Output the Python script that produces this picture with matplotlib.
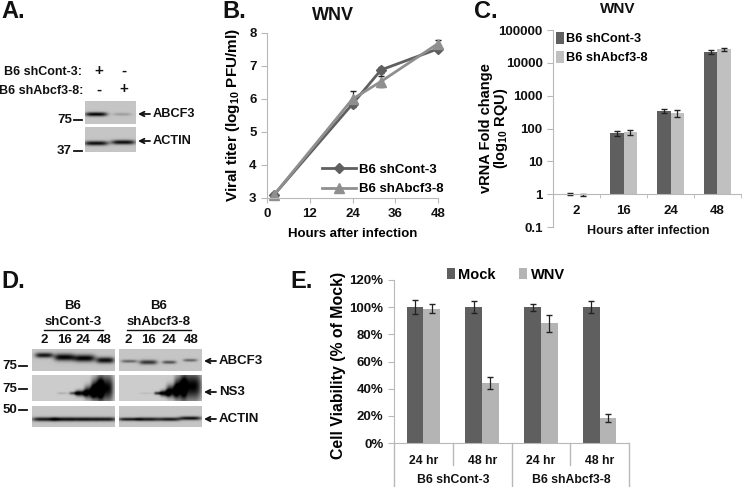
import matplotlib
matplotlib.use('Agg')
import matplotlib.pyplot as plt
import numpy as np

plt.rcParams['font.family'] = ['Liberation Sans', 'DejaVu Sans']
plt.rcParams['font.weight'] = 'bold'
plt.rcParams['axes.labelweight'] = 'bold'
plt.rcParams['mathtext.fontset'] = 'custom'
plt.rcParams['mathtext.rm'] = 'Liberation Sans:bold'
plt.rcParams['mathtext.default'] = 'rm'

W, H = 742, 487

# panel B
b_hours = [2, 24, 32, 48]
b_cont = [3.1, 5.85, 6.88, 7.52]
b_cont_err = [0.05, 0.06, 0.08, 0.06]
b_abcf = [3.1, 6.0, 6.53, 7.68]
b_abcf_err = [0.06, 0.25, 0.18, 0.12]
b_xticks = [0, 12, 24, 36, 48]
b_yticks = [3, 4, 5, 6, 7, 8]

# panel C
c_labels = ['2', '16', '24', '48']
c_cont = [1.0, 72, 340, 22000]
c_cont_err = [0.06, 14, 50, 3000]
c_abcf = [0.95, 78, 295, 25500]
c_abcf_err = [0.04, 13, 70, 3000]
c_yticks = [0.1, 1, 10, 100, 1000, 10000, 100000]
c_ylabels = ['0.1', '1', '10', '100', '1000', '10000', '100000']

# panel E
e_labels = ['24 hr', '48 hr', '24 hr', '48 hr']
e_groups = ['B6 shCont-3', 'B6 shAbcf3-8']
e_mock = [100, 100, 100, 100]
e_mock_err = [5, 4.5, 2.5, 4.5]
e_wnv = [99, 44, 88, 18.5]
e_wnv_err = [3, 4.5, 6, 3.2]
e_yticks = [0, 20, 40, 60, 80, 100, 120]

# blot bands: centre x, centre y, half width, half height, darkness
a_abcf3 = [(96, 114, 11, 2.0, 1.0), (122, 114, 9, 1.5, 0.2)]
a_actin = [(96, 143, 12, 2.2, 0.95), (123, 142, 12, 2.2, 0.95)]
d_abcf3_l = [(44, 355, 9, 2.5, 0.9), (64, 357, 10, 3.5, 1.0), (84, 358, 11, 3.5, 1.0), (105, 360, 9, 3, 0.95)]
d_abcf3_r = [(129, 361, 8, 1.5, 0.5), (148, 362, 9, 2.2, 0.75), (169, 362, 7, 1.6, 0.6), (190, 360, 7, 1.4, 0.5)]
d_ns3_l = [(62, 393, 5, 1, 0.15), (74, 393, 5, 1.5, 0.6), (81, 393, 6, 3, 0.95), (90, 392, 6, 6, 1.0),
           (97, 389, 6, 10, 1.0), (105, 388, 8, 13, 1.0)]
d_ns3_r = [(146, 393, 6, 0.6, 0.12), (158, 393, 4, 1.5, 0.8), (165, 393, 5, 3, 1.0), (172, 391, 6, 6, 1.0),
           (180, 388, 6, 11, 1.0), (191, 386, 10, 14, 1.0)]
d_actin_l = [(44, 419, 12, 2, 0.9), (63, 419, 11, 2, 0.95), (84, 419, 12, 2, 0.95), (105, 419, 11, 2, 0.9)]
d_actin_r = [(129, 419, 11, 1.6, 0.9), (148, 419, 11, 1.8, 0.9), (169, 419, 11, 1.8, 0.9), (190, 418, 11, 1.8, 0.95)]

DARK = '#5f5f5f'
LIGHT = '#b4b4b4'
AXC = '#b8b8b8'

fig = plt.figure(figsize=(W / 100, H / 100), dpi=100)
over = fig.add_axes([0, 0, 1, 1], zorder=5)
over.set_xlim(0, W)
over.set_ylim(H, 0)
over.axis('off')
over.patch.set_alpha(0)


def make_axes(left, right, top, bottom):
    return fig.add_axes([left / W, 1 - bottom / H, (right - left) / W, (bottom - top) / H])


def blot(x0, x1, y0, y1, bands, back=0.77):
    xs = np.arange(x0, x1, 0.5)
    ys = np.arange(y0, y1, 0.5)
    xx, yy = np.meshgrid(xs, ys)
    dark = np.zeros_like(xx)
    for cx, cy, hw, hh, d in bands:
        dark += d * np.exp(-((xx - cx) / hw) ** 4 - ((yy - cy) / hh) ** 2)
    img = back * (1 - np.clip(dark, 0, 1))
    over.imshow(img, extent=[x0, x1, y1, y0], cmap='gray', vmin=0, vmax=1,
                aspect='auto', interpolation='bilinear')


def label(x, y, s, size=9.5, ha='center', **kw):
    over.text(x, y, s, fontsize=size, ha=ha, va='center', color='#111111', **kw)


def marker(x, y, s):
    # size marker with its dash
    label(x - 5, y, s, ha='right')
    over.plot([x - 3, x + 5], [y, y], color='#111111', lw=1.3)


def arrow(x, y, s, size=9.5):
    over.annotate('', xy=(x, y), xytext=(x + 12, y),
                  arrowprops=dict(arrowstyle='->', color='#111111', lw=1.3, mutation_scale=8,
                                  shrinkA=0, shrinkB=0))
    label(x + 15, y, s, size=size, ha='left')


# panel letters
for px, py, letter in [(1, 12, 'A.'), (222, 12, 'B.'), (474, 12, 'C.'), (1, 281, 'D.'), (290, 282, 'E.')]:
    label(px, py, letter, size=17, ha='left')

# A
label(82, 72, 'B6 shCont-3:', size=9, ha='right')
label(83, 91, 'B6 shAbcf3-8:', size=9, ha='right')
for px, py, s in [(99, 71, '+'), (124, 71, '-'), (99, 90, '-'), (124, 89, '+')]:
    label(px, py, s, size=11)
blot(85, 136, 101, 124, a_abcf3)
blot(85, 136, 127, 152, a_actin)
marker(77, 120, '75')
marker(77, 151, '37')
arrow(138, 114, 'ABCF3', size=9.2)
arrow(138, 141, 'ACTIN', size=9.2)

# D
label(73, 306, 'B6')
label(73, 322, 'shCont-3')
over.plot([44, 103], [330, 330], color='#111111', lw=1)
label(159, 306, 'B6')
label(159, 322, 'shAbcf3-8')
over.plot([127, 191], [330, 330], color='#111111', lw=1)
for px, s in zip([44, 64, 83, 104, 128, 148, 169, 191], ['2', '16', '24', '48'] * 2):
    label(px, 340, s)
blot(32, 115, 349, 371, d_abcf3_l)
blot(119, 202, 349, 371, d_abcf3_r)
blot(32, 115, 375, 401, d_ns3_l, back=0.8)
blot(119, 202, 375, 401, d_ns3_r, back=0.8)
blot(32, 115, 406, 427, d_actin_l)
blot(119, 202, 406, 427, d_actin_r)
marker(22, 366, '75')
marker(22, 389, '75')
marker(22, 410, '50')
arrow(204, 361, 'ABCF3')
arrow(204, 392, 'NS3')
arrow(204, 419, 'ACTIN')
over.set_xlim(0, W)
over.set_ylim(H, 0)

# B
ax = make_axes(267, 438, 33, 198)
ax.errorbar(b_hours, b_cont, yerr=b_cont_err, color=DARK, marker='D', ms=5, lw=2,
            ecolor='#222222', elinewidth=0.9, capsize=2, clip_on=False)
ax.errorbar(b_hours, b_abcf, yerr=b_abcf_err, color='#8f8f8f', marker='^', ms=7, lw=2,
            ecolor='#222222', elinewidth=0.9, capsize=2, clip_on=False)
ax.plot([], [], color=DARK, marker='D', ms=5, lw=2, label='B6 shCont-3')
ax.plot([], [], color='#8f8f8f', marker='^', ms=7, lw=2, label='B6 shAbcf3-8')
ax.set_xlim(0, 48)
ax.set_ylim(3, 8)
ax.set_xticks(b_xticks)
ax.set_yticks(b_yticks)
ax.set_xlabel('Hours after infection', fontsize=9.5, labelpad=6)
ax.set_ylabel('Viral titer (log$_{10}$ PFU/ml)', fontsize=11, labelpad=5)
ax.legend(loc='lower right', bbox_to_anchor=(1.10, -0.055), frameon=False, fontsize=9.5,
          handlelength=2.6, handletextpad=0.2, labelspacing=0.55)
label(333, 16, 'WNV', size=13)

# C
ax = make_axes(553, 741, 30, 227)
x = np.arange(len(c_labels))
w = 0.29
ax.set_yscale('log')
ax.bar(x - w / 2, np.array(c_cont) - 1, w, bottom=1, color=DARK, label='B6 shCont-3')
ax.bar(x + w / 2, np.array(c_abcf) - 1, w, bottom=1, color='#c0c0c0', label='B6 shAbcf3-8')
ax.errorbar(x - w / 2, c_cont, yerr=c_cont_err, fmt='none', ecolor='#222222', elinewidth=0.9, capsize=2)
ax.errorbar(x + w / 2, c_abcf, yerr=c_abcf_err, fmt='none', ecolor='#222222', elinewidth=0.9, capsize=2)
ax.set_xlim(-0.5, 3.5)
ax.set_ylim(0.1, 100000)
ax.spines['bottom'].set_position(('data', 1))
ax.set_xticks(x)
ax.set_xticklabels(c_labels)
ax.set_yticks(c_yticks)
ax.set_yticklabels(c_ylabels)
ax.minorticks_off()
ax.set_xticks(np.arange(-0.5, 4), minor=True)
ax.tick_params(axis='x', which='major', length=0, pad=8)
ax.tick_params(axis='x', which='minor', length=3, color=AXC)
ax.set_ylabel('vRNA Fold change\n(log$_{10}$ RQU)', fontsize=10.5, linespacing=0.95)
ax.yaxis.set_label_coords(-0.229, 0.5)
ax.legend(loc='upper left', bbox_to_anchor=(-0.025, 1.03), frameon=False, fontsize=9.2, borderaxespad=0.2,
          handlelength=0.65, handleheight=1.1, handletextpad=0.15, labelspacing=0.45)
label(618, 9, 'WNV', size=11)
label(648, 231, 'Hours after infection', size=9)

# E
ax = make_axes(394, 629, 280, 443)
x = np.arange(len(e_labels))
w = 0.285
ax.bar(x - w / 2, e_mock, w, color=DARK, label='Mock')
ax.bar(x + w / 2, e_wnv, w, color=LIGHT, label='WNV')
ax.errorbar(x - w / 2, e_mock, yerr=e_mock_err, fmt='none', ecolor='#222222', elinewidth=0.9, capsize=2)
ax.errorbar(x + w / 2, e_wnv, yerr=e_wnv_err, fmt='none', ecolor='#222222', elinewidth=0.9, capsize=2)
ax.set_xlim(-0.5, 3.5)
ax.set_ylim(0, 120)
ax.set_xticks(x)
ax.set_xticklabels(e_labels)
ax.set_yticks(e_yticks)
ax.set_yticklabels([f'{v}%' for v in e_yticks])
ax.set_ylabel('Cell Viability (% of Mock)', fontsize=11.4)
ax.yaxis.set_label_coords(-0.204, 0.478)
ax.legend(loc='lower center', bbox_to_anchor=(0.476, 0.945), ncol=2, frameon=False, fontsize=10.5,
          handlelength=0.55, handleheight=0.8, handletextpad=0.25, columnspacing=1.6, borderpad=0)
tr = ax.get_xaxis_transform()
for sep, depth in [(-0.5, 44), (0.5, 22), (1.5, 44), (2.5, 22), (3.5, 44)]:
    ax.plot([sep, sep], [0, -depth / 163], transform=tr, color=AXC, lw=1, clip_on=False)
label(453, 480, e_groups[0], size=8.8)
label(571, 480, e_groups[1], size=8.8)

for a in fig.axes[1:]:
    a.patch.set_alpha(0)
    a.spines['top'].set_visible(False)
    a.spines['right'].set_visible(False)
    a.spines['left'].set_color(AXC)
    a.spines['bottom'].set_color(AXC)
    a.tick_params(axis='y', which='major', length=4, color=AXC, labelsize=9.5, labelcolor='#111111')
    a.tick_params(axis='x', which='major', color=AXC, labelsize=9.5, labelcolor='#111111')
fig.axes[3].tick_params(axis='x', which='major', length=0, pad=9, labelsize=8.8)

plt.savefig('out.png', dpi=100)
